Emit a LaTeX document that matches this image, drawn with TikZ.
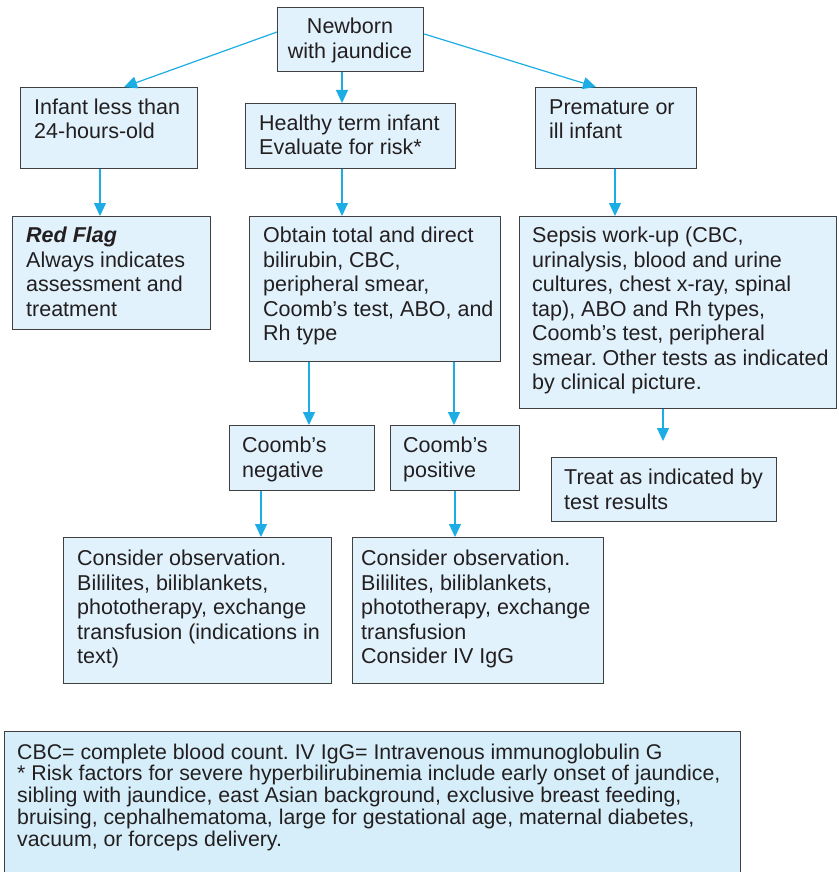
\documentclass[tikz,border=0pt]{standalone}
\usepackage{fontspec}
\setmainfont{Liberation Sans}
\usetikzlibrary{arrows.meta,calc}
\definecolor{boxfill}{HTML}{E1F2FC}
\definecolor{notefill}{HTML}{D6EEF9}
\definecolor{boxline}{HTML}{404040}
\definecolor{arrowc}{HTML}{1CADE4}
\definecolor{textc}{HTML}{231F20}
\frenchspacing
\tikzset{
  box/.style={draw=boxline, fill=boxfill, line width=1.3pt, inner sep=0pt, anchor=north west},
  notebox/.style={box, fill=notefill},
  txt/.style={inner sep=0pt, anchor=base west, text=textc, font=\fontsize{21.5}{24.5}\selectfont\frenchspacing},
  notetxt/.style={txt, font=\fontsize{21.3}{21.3}\selectfont\frenchspacing},
  conn/.style={draw=arrowc, line width=1.2pt, -{Triangle[length=13pt,width=12pt]}},
}
\newcommand\lines[1]{\begin{tabular}[t]{@{}l@{}}#1\end{tabular}}
\begin{document}
\begin{tikzpicture}[x=1pt,y=-1pt]
\useasboundingbox (0,0) rectangle (838,872);
\clip (0,0) rectangle (838,872);
% boxes
\node[box, minimum width=146pt, minimum height=64pt] (nb) at (277,7) {};
\node[txt, anchor=base] (nbt) at (350,34) {\begin{tabular}[t]{@{}c@{}}Newborn\\with jaundice\end{tabular}};
\node[box, minimum width=177pt, minimum height=81pt] (inf) at (20,87) {};
\node[txt] (inft) at (34,114) {\lines{Infant less than\\24-hours-old}};
\node[box, minimum width=210pt, minimum height=65pt] (hty) at (245,103) {};
\node[txt] (htyt) at (259,130) {\lines{Healthy term infant\\Evaluate for risk*}};
\node[box, minimum width=161pt, minimum height=81pt] (pre) at (535,87) {};
\node[txt] (pret) at (549,114) {\lines{Premature or\\ill infant}};
\node[box, minimum width=198pt, minimum height=113pt] (red) at (12,216) {};
\node[txt] (redt) at (26,242.5) {\lines{\textbf{\textit{Red Flag}}\\Always indicates\\assessment and\\treatment}};
\node[box, minimum width=251pt, minimum height=145pt] (obt) at (249,216) {};
\node[txt] (obtt) at (263,242.5) {\lines{Obtain total and direct\\bilirubin, CBC,\\peripheral smear,\\Coomb’s test, ABO, and\\Rh type}};
\node[box, minimum width=317pt, minimum height=192pt] (sep) at (519,216) {};
\node[txt] (sept) at (532,242.5) {\lines{Sepsis work-up (CBC,\\urinalysis, blood and urine\\cultures, chest x-ray, spinal\\tap), ABO and Rh types,\\Coomb’s test, peripheral\\smear. Other tests as indicated\\by clinical picture.}};
\node[box, minimum width=145pt, minimum height=65pt] (cneg) at (229,425) {};
\node[txt] (cnegt) at (242,452.5) {\lines{Coomb’s\\negative}};
\node[box, minimum width=129pt, minimum height=65pt] (cpos) at (390,425) {};
\node[txt] (cpost) at (403,452.5) {\lines{Coomb’s\\positive}};
\node[box, minimum width=225pt, minimum height=64pt] (trt) at (551,457) {};
\node[txt] (trtt) at (564,484.5) {\lines{Treat as indicated by\\test results}};
\node[box, minimum width=268pt, minimum height=146pt] (conl) at (63,537) {};
\node[txt] (conlt) at (77,565.5) {\lines{Consider observation.\\Bililites, biliblankets,\\phototherapy, exchange\\transfusion (indications in\\text)}};
\node[box, minimum width=251pt, minimum height=146pt] (conr) at (352,537) {};
\node[txt] (conrt) at (361,565.5) {\lines{Consider observation.\\Bililites, biliblankets,\\phototherapy, exchange\\transfusion\\Consider IV IgG}};
\node[notebox, minimum width=736pt, minimum height=160pt] (note) at (4,731) {};
\node[notetxt] (notet) at (17,759) {\lines{CBC= complete blood count. IV IgG= Intravenous immunoglobulin G\\[0pt]{*} Risk factors for severe hyperbilirubinemia include early onset of jaundice,\\sibling with jaundice, east Asian background, exclusive breast feeding,\\bruising, cephalhematoma, large for gestational age, maternal diabetes,\\vacuum, or forceps delivery.}};
% connectors
\coordinate (sepend) at (663,441);
\draw[conn] ($(nb.north west)+(0,25)$) -- ($(inf.north west)+(104,0)$);
\draw[conn] ($(nb.north east)+(0,27)$) -- ($(pre.north west)+(61,0)$);
\draw[conn] ($(nb.south west)+(65,0)$) -- ($(hty.north west)+(97,0)$);
\draw[conn] ($(inf.south west)+(80,0)$) -- ($(red.north west)+(88,0)$);
\draw[conn] ($(hty.south west)+(97,0)$) -- ($(obt.north west)+(93,0)$);
\draw[conn] ($(pre.south west)+(80,0)$) -- ($(sep.north west)+(96,0)$);
\draw[conn] ($(obt.south west)+(60,0)$) -- ($(cneg.north west)+(80,0)$);
\draw[conn] ($(obt.south west)+(205,0)$) -- ($(cpos.north west)+(64,0)$);
\draw[conn] ($(sep.south west)+(144,0)$) -- (sepend);
\draw[conn] ($(cneg.south west)+(32,0)$) -- ($(conl.north west)+(198,0)$);
\draw[conn] ($(cpos.south west)+(65,0)$) -- ($(conr.north west)+(103,0)$);
\end{tikzpicture}
\end{document}
